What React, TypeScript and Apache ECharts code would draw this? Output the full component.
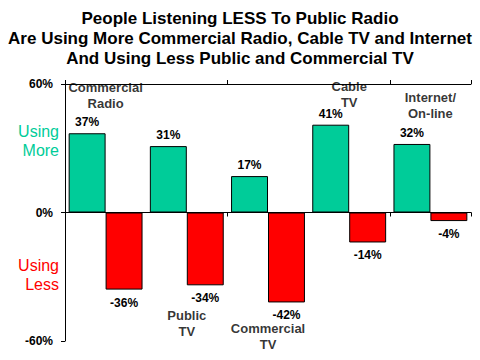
import React, { useEffect, useRef } from "react";
import * as echarts from "echarts";

const categories = ["Commercial\nRadio", "Public\nTV", "Commercial\nTV", "Cable\nTV", "Internet/\nOn-line"];
const usingMore = [37, 31, 17, 41, 32];
const usingLess = [-36, -34, -42, -14, -4];
const namePlacement = ["top", "bottom", "bottom", "top", "top"];
const nameDistance = [22, 22, 18, 14, 22];
const yTicks = [-60, 0, 60];

const FONT = "'Liberation Sans', Arial, Helvetica, sans-serif";
const GREEN = "#00CC99";
const RED = "#FF0000";

export default function App() {
  const ref = useRef<HTMLDivElement>(null);
  useEffect(() => {
    if (!ref.current) return;
    const chart = echarts.init(ref.current, null, { renderer: "svg" });
    const nameData = categories.map((c, i) => ({
      value: namePlacement[i] === "top" ? usingMore[i] : usingLess[i],
      label: { position: namePlacement[i], distance: nameDistance[i] },
    }));
    chart.setOption({
      animation: false,
      backgroundColor: "#ffffff",
      title: {
        text: "People Listening LESS To Public Radio\nAre Using More Commercial Radio, Cable TV and Internet\nAnd Using Less Public and Commercial TV",
        left: "center",
        top: 8,
        padding: 0,
        textStyle: { fontFamily: FONT, fontSize: 17, fontWeight: "bold", color: "#000", lineHeight: 20, align: "center" },
      },
      grid: { left: 65, right: 9, top: 84, bottom: 19, containLabel: false },
      xAxis: [
        {
          type: "category",
          data: categories,
          position: "bottom",
          axisLine: { onZero: true, lineStyle: { color: "#000", width: 1 } },
          axisTick: { show: true, inside: false, length: 4, lineStyle: { color: "#000" } },
          axisLabel: { show: false },
          splitLine: { show: false },
        },
        {
          type: "category",
          data: categories,
          position: "top",
          axisLine: { onZero: true, lineStyle: { color: "#000", width: 1 } },
          axisTick: { show: true, inside: false, length: 4, lineStyle: { color: "#000" } },
          axisLabel: { show: false },
          splitLine: { show: false },
        },
      ],
      yAxis: {
        type: "value",
        min: yTicks[0],
        max: yTicks[yTicks.length - 1],
        interval: 60,
        axisLine: { show: true, lineStyle: { color: "#000", width: 1 } },
        axisTick: { show: true, length: 4, lineStyle: { color: "#000" } },
        axisLabel: {
          formatter: (v: number) => `${v}%`,
          fontFamily: FONT,
          fontSize: 12,
          fontWeight: "bold",
          color: "#000",
          margin: 12,
        },
        splitLine: { show: false },
      },
      graphic: [
        {
          type: "text",
          right: 480 - 59,
          top: 122,
          style: {
            text: "Using\nMore",
            fill: GREEN,
            font: `16px ${FONT}`,
            textAlign: "right",
            lineHeight: 19,
          },
        },
        {
          type: "text",
          right: 480 - 59,
          top: 256,
          style: {
            text: "Using\nLess",
            fill: RED,
            font: `16px ${FONT}`,
            textAlign: "right",
            lineHeight: 19,
          },
        },
      ],
      series: [
        {
          name: "Using More",
          type: "bar",
          data: usingMore,
          barGap: "0%",
          barCategoryGap: "9%",
          itemStyle: { color: GREEN, borderColor: "#000", borderWidth: 1 },
          label: {
            show: true,
            position: "top",
            distance: 5,
            formatter: (p: any) => `${p.value}%`,
            fontFamily: FONT,
            fontSize: 12,
            fontWeight: "bold",
            color: "#000",
          },
        },
        {
          name: "Using Less",
          type: "bar",
          data: usingLess,
          barGap: "0%",
          barCategoryGap: "9%",
          itemStyle: { color: RED, borderColor: "#000", borderWidth: 1 },
          label: {
            show: true,
            position: "bottom",
            distance: 7,
            formatter: (p: any) => `${p.value}%`,
            fontFamily: FONT,
            fontSize: 12,
            fontWeight: "bold",
            color: "#000",
          },
        },
        {
          name: "names",
          type: "scatter",
          symbolSize: 0,
          data: nameData,
          silent: true,
          label: {
            show: true,
            formatter: (p: any) => categories[p.dataIndex],
            fontFamily: FONT,
            fontSize: 13,
            fontWeight: "bold",
            color: "#000",
            lineHeight: 16,
            align: "center",
          },
        },
      ],
    });
    return () => chart.dispose();
  }, []);
  return <div ref={ref} style={{ width: 480, height: 360, position: "absolute", left: 0, top: 0 }} />;
}
